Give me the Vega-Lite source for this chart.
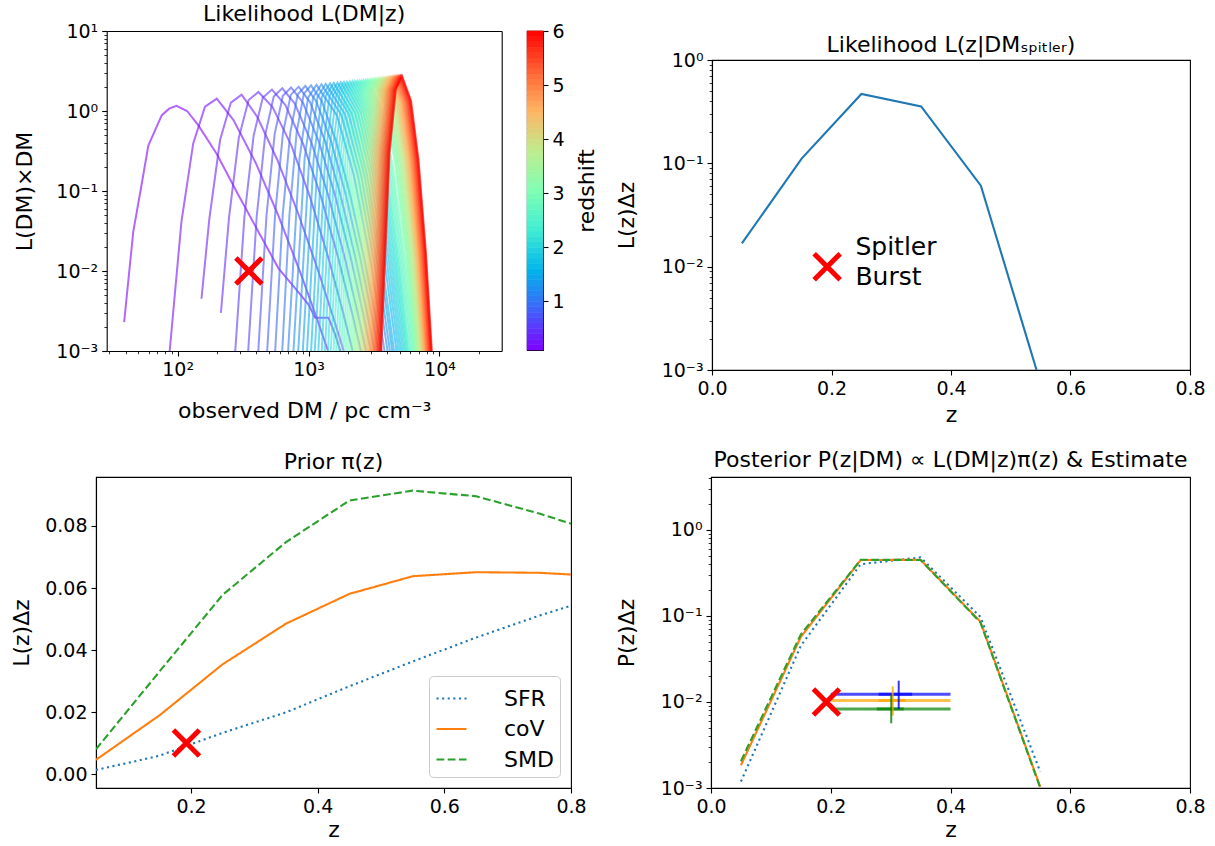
{
"$schema": "https://vega.github.io/schema/vega-lite/v6.json",
"padding": {"left": 10, "top": 3, "right": 5, "bottom": 0},
"background": "white",
"config": {
 "font": "DejaVu Sans",
 "view": {"stroke": "#000000", "strokeWidth": 1.1},
 "axis": {"labelFont": "DejaVu Sans", "titleFont": "DejaVu Sans", "labelFontSize": 19, "labelColor": "#000", "titleFontSize": 22, "titleFontWeight": "normal", "titleColor": "#000", "tickColor": "#000", "tickSize": 5, "tickWidth": 1.1, "domainColor": "#000", "domainWidth": 1.1, "labelPadding": 4, "grid": false, "labelFlush": false, "labelOverlap": false},
 "title": {"font": "DejaVu Sans", "fontSize": 22, "fontWeight": "normal", "color": "#000", "offset": 6, "frame": "group"}
},
"datasets": {
 "curves": [
{"z":0.1,"dm":39,"L":0.0023},{"z":0.1,"dm":45.8,"L":0.031},{"z":0.1,"dm":52,"L":0.1},{"z":0.1,"dm":59.7,"L":0.37},{"z":0.1,"dm":75.5,"L":0.88},{"z":0.1,"dm":86,"L":1.07},{"z":0.1,"dm":98,"L":1.16},{"z":0.1,"dm":118,"L":1.0},{"z":0.1,"dm":144,"L":0.66},{"z":0.1,"dm":199,"L":0.29},{"z":0.1,"dm":291,"L":0.089},{"z":0.1,"dm":414,"L":0.031},{"z":0.1,"dm":589,"L":0.0108},{"z":0.1,"dm":789,"L":0.0061},{"z":0.1,"dm":1000,"L":0.0038},{"z":0.1,"dm":1122,"L":0.0026},{"z":0.1,"dm":1420,"L":0.0026},{"z":0.1,"dm":1600,"L":0.0016},{"z":0.1,"dm":1750,"L":0.001},
{"z":0.2,"dm":86.9,"L":0.001},{"z":0.2,"dm":106.9,"L":0.0415},{"z":0.2,"dm":131.5,"L":0.394},{"z":0.2,"dm":161.8,"L":1.135},{"z":0.2,"dm":199,"L":1.43},{"z":0.2,"dm":267,"L":0.769},{"z":0.2,"dm":395,"L":0.224},{"z":0.2,"dm":584,"L":0.0505},{"z":0.2,"dm":864,"L":0.00964},{"z":0.2,"dm":1159,"L":0.00254},{"z":0.2,"dm":1409,"L":0.001},
{"z":0.3,"dm":152,"L":0.0045},{"z":0.3,"dm":174.4,"L":0.0441},{"z":0.3,"dm":210.9,"L":0.434},{"z":0.3,"dm":255,"L":1.274},{"z":0.3,"dm":308,"L":1.6},{"z":0.3,"dm":403.6,"L":0.857},{"z":0.3,"dm":578,"L":0.244},{"z":0.3,"dm":828,"L":0.0538},{"z":0.3,"dm":1186,"L":0.01},{"z":0.3,"dm":1552,"L":0.00257},{"z":0.3,"dm":1858,"L":0.001},
{"z":0.4,"dm":214,"L":0.003},{"z":0.4,"dm":246.6,"L":0.0458},{"z":0.4,"dm":293.1,"L":0.462},{"z":0.4,"dm":348.3,"L":1.371},{"z":0.4,"dm":414,"L":1.73},{"z":0.4,"dm":530.9,"L":1.122},{"z":0.4,"dm":739.6,"L":0.37},{"z":0.4,"dm":1030,"L":0.0826},{"z":0.4,"dm":1435,"L":0.01365},{"z":0.4,"dm":1841,"L":0.00297},{"z":0.4,"dm":2173,"L":0.001},
{"z":0.5,"dm":275.4,"L":0.001},{"z":0.5,"dm":323.6,"L":0.0474},{"z":0.5,"dm":380.2,"L":0.489},{"z":0.5,"dm":446.7,"L":1.462},{"z":0.5,"dm":525,"L":1.85},{"z":0.5,"dm":663.7,"L":1.194},{"z":0.5,"dm":907.8,"L":0.39},{"z":0.5,"dm":1242,"L":0.0859},{"z":0.5,"dm":1698,"L":0.01396},{"z":0.5,"dm":2148,"L":0.003},{"z":0.5,"dm":2512,"L":0.001},
{"z":0.6,"dm":345.9,"L":0.001},{"z":0.6,"dm":401.8,"L":0.0483},{"z":0.6,"dm":466.7,"L":0.504},{"z":0.6,"dm":542,"L":1.514},{"z":0.6,"dm":630,"L":1.92},{"z":0.6,"dm":785.2,"L":1.236},{"z":0.6,"dm":1054,"L":0.401},{"z":0.6,"dm":1416,"L":0.0879},{"z":0.6,"dm":1901,"L":0.01416},{"z":0.6,"dm":2371,"L":0.00301},{"z":0.6,"dm":2748,"L":0.001},
{"z":0.7,"dm":413,"L":0.001},{"z":0.7,"dm":477,"L":0.049},{"z":0.7,"dm":550.8,"L":0.514},{"z":0.7,"dm":636.1,"L":1.554},{"z":0.7,"dm":735,"L":1.97},{"z":0.7,"dm":907,"L":1.268},{"z":0.7,"dm":1201,"L":0.41},{"z":0.7,"dm":1591,"L":0.0892},{"z":0.7,"dm":2106,"L":0.01429},{"z":0.7,"dm":2600,"L":0.00303},{"z":0.7,"dm":2992,"L":0.001},
{"z":0.8,"dm":483.1,"L":0.001},{"z":0.8,"dm":554.6,"L":0.0495},{"z":0.8,"dm":636.8,"L":0.524},{"z":0.8,"dm":731.1,"L":1.589},{"z":0.8,"dm":840,"L":2.014},{"z":0.8,"dm":1026,"L":1.294},{"z":0.8,"dm":1340,"L":0.417},{"z":0.8,"dm":1750,"L":0.0904},{"z":0.8,"dm":2286,"L":0.01439},{"z":0.8,"dm":2793,"L":0.00303},{"z":0.8,"dm":3192,"L":0.001},
{"z":0.9,"dm":555.9,"L":0.001},{"z":0.9,"dm":634.7,"L":0.0501},{"z":0.9,"dm":724.4,"L":0.533},{"z":0.9,"dm":827,"L":1.62},{"z":0.9,"dm":945,"L":2.056},{"z":0.9,"dm":1146,"L":1.32},{"z":0.9,"dm":1483,"L":0.424},{"z":0.9,"dm":1919,"L":0.0914},{"z":0.9,"dm":2483,"L":0.01449},{"z":0.9,"dm":3013,"L":0.00305},{"z":0.9,"dm":3428,"L":0.001},
{"z":1.0,"dm":629.5,"L":0.001},{"z":1.0,"dm":714.5,"L":0.0505},{"z":1.0,"dm":810.9,"L":0.54},{"z":1.0,"dm":920.4,"L":1.644},{"z":1.0,"dm":1045,"L":2.089},{"z":1.0,"dm":1259,"L":1.34},{"z":1.0,"dm":1614,"L":0.43},{"z":1.0,"dm":2070,"L":0.0923},{"z":1.0,"dm":2655,"L":0.01459},{"z":1.0,"dm":3199,"L":0.00305},{"z":1.0,"dm":3622,"L":0.001},
{"z":1.1,"dm":698,"L":0.001},{"z":1.1,"dm":852,"L":0.2505},{"z":1.1,"dm":990,"L":1.455},{"z":1.1,"dm":1150,"L":2.124},{"z":1.1,"dm":1647,"L":0.883},{"z":1.1,"dm":2222,"L":0.156},{"z":1.1,"dm":2997,"L":0.0126},{"z":1.1,"dm":3808,"L":0.001},
{"z":1.2,"dm":767,"L":0.001},{"z":1.2,"dm":933,"L":0.2534},{"z":1.2,"dm":1083,"L":1.478},{"z":1.2,"dm":1255,"L":2.156},{"z":1.2,"dm":1780,"L":0.896},{"z":1.2,"dm":2379,"L":0.158},{"z":1.2,"dm":3181,"L":0.0127},{"z":1.2,"dm":4015,"L":0.001},
{"z":1.3,"dm":834,"L":0.001},{"z":1.3,"dm":1012,"L":0.256},{"z":1.3,"dm":1171,"L":1.497},{"z":1.3,"dm":1355,"L":2.184},{"z":1.3,"dm":1901,"L":0.906},{"z":1.3,"dm":2520,"L":0.159},{"z":1.3,"dm":3341,"L":0.0127},{"z":1.3,"dm":4187,"L":0.001},
{"z":1.4,"dm":904,"L":0.001},{"z":1.4,"dm":1095,"L":0.258},{"z":1.4,"dm":1265,"L":1.515},{"z":1.4,"dm":1460,"L":2.211},{"z":1.4,"dm":2027,"L":0.917},{"z":1.4,"dm":2665,"L":0.16},{"z":1.4,"dm":3503,"L":0.0128},{"z":1.4,"dm":4358,"L":0.001},
{"z":1.5,"dm":973,"L":0.001},{"z":1.5,"dm":1175,"L":0.26},{"z":1.5,"dm":1354,"L":1.532},{"z":1.5,"dm":1560,"L":2.236},{"z":1.5,"dm":2143,"L":0.926},{"z":1.5,"dm":2794,"L":0.161},{"z":1.5,"dm":3639,"L":0.0128},{"z":1.5,"dm":4499,"L":0.001},
{"z":1.6,"dm":1046,"L":0.001},{"z":1.6,"dm":1260,"L":0.262},{"z":1.6,"dm":1448,"L":1.548},{"z":1.6,"dm":1665,"L":2.26},{"z":1.6,"dm":2273,"L":0.935},{"z":1.6,"dm":2944,"L":0.162},{"z":1.6,"dm":3814,"L":0.0129},{"z":1.6,"dm":4692,"L":0.001},
{"z":1.7,"dm":1116,"L":0.001},{"z":1.7,"dm":1341,"L":0.264},{"z":1.7,"dm":1538,"L":1.563},{"z":1.7,"dm":1765,"L":2.283},{"z":1.7,"dm":2392,"L":0.944},{"z":1.7,"dm":3082,"L":0.1636},{"z":1.7,"dm":3970,"L":0.0129},{"z":1.7,"dm":4861,"L":0.001},
{"z":1.8,"dm":1188,"L":0.001},{"z":1.8,"dm":1423,"L":0.266},{"z":1.8,"dm":1629,"L":1.577},{"z":1.8,"dm":1865,"L":2.304},{"z":1.8,"dm":2510,"L":0.952},{"z":1.8,"dm":3215,"L":0.1646},{"z":1.8,"dm":4118,"L":0.013},{"z":1.8,"dm":5021,"L":0.001},
{"z":1.9,"dm":1260,"L":0.001},{"z":1.9,"dm":1505,"L":0.267},{"z":1.9,"dm":1720,"L":1.59},{"z":1.9,"dm":1965,"L":2.324},{"z":1.9,"dm":2627,"L":0.959},{"z":1.9,"dm":3344,"L":0.1656},{"z":1.9,"dm":4260,"L":0.013},{"z":1.9,"dm":5168,"L":0.001},
{"z":2.0,"dm":1333,"L":0.001},{"z":2.0,"dm":1588,"L":0.269},{"z":2.0,"dm":1811,"L":1.602},{"z":2.0,"dm":2065,"L":2.344},{"z":2.0,"dm":2740,"L":0.966},{"z":2.0,"dm":3471,"L":0.1665},{"z":2.0,"dm":4394,"L":0.013},{"z":2.0,"dm":5307,"L":0.001},
{"z":2.1,"dm":1407,"L":0.001},{"z":2.1,"dm":1672,"L":0.27},{"z":2.1,"dm":1903,"L":1.613},{"z":2.1,"dm":2165,"L":2.363},{"z":2.1,"dm":2853,"L":0.972},{"z":2.1,"dm":3594,"L":0.1673},{"z":2.1,"dm":4523,"L":0.0131},{"z":2.1,"dm":5438,"L":0.001},
{"z":2.2,"dm":1479,"L":0.001},{"z":2.2,"dm":1753,"L":0.271},{"z":2.2,"dm":1990,"L":1.624},{"z":2.2,"dm":2260,"L":2.38},{"z":2.2,"dm":2958,"L":0.978},{"z":2.2,"dm":3704,"L":0.168},{"z":2.2,"dm":4635,"L":0.0131},{"z":2.2,"dm":5548,"L":0.001},
{"z":2.3,"dm":1552,"L":0.001},{"z":2.3,"dm":1834,"L":0.272},{"z":2.3,"dm":2078,"L":1.634},{"z":2.3,"dm":2355,"L":2.396},{"z":2.3,"dm":3062,"L":0.984},{"z":2.3,"dm":3810,"L":0.1688},{"z":2.3,"dm":4743,"L":0.0131},{"z":2.3,"dm":5650,"L":0.001},
{"z":2.4,"dm":1626,"L":0.001},{"z":2.4,"dm":1916,"L":0.274},{"z":2.4,"dm":2167,"L":1.643},{"z":2.4,"dm":2450,"L":2.412},{"z":2.4,"dm":3163,"L":0.99},{"z":2.4,"dm":3915,"L":0.1695},{"z":2.4,"dm":4844,"L":0.0132},{"z":2.4,"dm":5743,"L":0.001},
{"z":2.5,"dm":1701,"L":0.001},{"z":2.5,"dm":1998,"L":0.275},{"z":2.5,"dm":2255,"L":1.652},{"z":2.5,"dm":2545,"L":2.427},{"z":2.5,"dm":3263,"L":0.995},{"z":2.5,"dm":4016,"L":0.1703},{"z":2.5,"dm":4940,"L":0.0132},{"z":2.5,"dm":5831,"L":0.001},
{"z":2.6,"dm":1777,"L":0.001},{"z":2.6,"dm":2082,"L":0.276},{"z":2.6,"dm":2344,"L":1.661},{"z":2.6,"dm":2640,"L":2.442},{"z":2.6,"dm":3374,"L":1.0},{"z":2.6,"dm":4140,"L":0.171},{"z":2.6,"dm":5077,"L":0.0132},{"z":2.6,"dm":5980,"L":0.001},
{"z":2.7,"dm":1850,"L":0.001},{"z":2.7,"dm":2162,"L":0.277},{"z":2.7,"dm":2429,"L":1.669},{"z":2.7,"dm":2730,"L":2.456},{"z":2.7,"dm":3478,"L":1.005},{"z":2.7,"dm":4253,"L":0.1715},{"z":2.7,"dm":5201,"L":0.0133},{"z":2.7,"dm":6112,"L":0.001},
{"z":2.8,"dm":1924,"L":0.001},{"z":2.8,"dm":2242,"L":0.279},{"z":2.8,"dm":2515,"L":1.677},{"z":2.8,"dm":2820,"L":2.47},{"z":2.8,"dm":3579,"L":1.01},{"z":2.8,"dm":4365,"L":0.172},{"z":2.8,"dm":5324,"L":0.0133},{"z":2.8,"dm":6241,"L":0.001},
{"z":2.9,"dm":1999,"L":0.001},{"z":2.9,"dm":2323,"L":0.28},{"z":2.9,"dm":2600,"L":1.689},{"z":2.9,"dm":2910,"L":2.483},{"z":2.9,"dm":3681,"L":1.015},{"z":2.9,"dm":4476,"L":0.1727},{"z":2.9,"dm":5445,"L":0.0133},{"z":2.9,"dm":6367,"L":0.001},
{"z":3.0,"dm":2075,"L":0.001},{"z":3.0,"dm":2405,"L":0.281},{"z":3.0,"dm":2686,"L":1.697},{"z":3.0,"dm":3000,"L":2.495},{"z":3.0,"dm":3768,"L":1.234},{"z":3.0,"dm":4557,"L":0.234},{"z":3.0,"dm":5511,"L":0.0167},{"z":3.0,"dm":6414,"L":0.001},
{"z":3.1,"dm":2138,"L":0.001},{"z":3.1,"dm":2477,"L":0.282},{"z":3.1,"dm":2767,"L":1.705},{"z":3.1,"dm":3090,"L":2.509},{"z":3.1,"dm":3866,"L":1.241},{"z":3.1,"dm":4657,"L":0.235},{"z":3.1,"dm":5611,"L":0.0167},{"z":3.1,"dm":6517,"L":0.001},
{"z":3.2,"dm":2196,"L":0.001},{"z":3.2,"dm":2545,"L":0.2834},{"z":3.2,"dm":2843,"L":1.713},{"z":3.2,"dm":3175,"L":2.52},{"z":3.2,"dm":3956,"L":1.246},{"z":3.2,"dm":4750,"L":0.2358},{"z":3.2,"dm":5702,"L":0.0168},{"z":3.2,"dm":6604,"L":0.001},
{"z":3.3,"dm":2255,"L":0.001},{"z":3.3,"dm":2614,"L":0.284},{"z":3.3,"dm":2919,"L":1.72},{"z":3.3,"dm":3260,"L":2.531},{"z":3.3,"dm":4046,"L":1.251},{"z":3.3,"dm":4838,"L":0.2365},{"z":3.3,"dm":5793,"L":0.0168},{"z":3.3,"dm":6686,"L":0.001},
{"z":3.4,"dm":2314,"L":0.001},{"z":3.4,"dm":2682,"L":0.2852},{"z":3.4,"dm":2995,"L":1.728},{"z":3.4,"dm":3345,"L":2.542},{"z":3.4,"dm":4131,"L":1.256},{"z":3.4,"dm":4927,"L":0.2372},{"z":3.4,"dm":5877,"L":0.0168},{"z":3.4,"dm":6767,"L":0.001},
{"z":3.5,"dm":2373,"L":0.001},{"z":3.5,"dm":2750,"L":0.2861},{"z":3.5,"dm":3071,"L":1.735},{"z":3.5,"dm":3430,"L":2.552},{"z":3.5,"dm":4219,"L":1.261},{"z":3.5,"dm":5015,"L":0.2379},{"z":3.5,"dm":5961,"L":0.0168},{"z":3.5,"dm":6843,"L":0.001},
{"z":3.6,"dm":2428,"L":0.001},{"z":3.6,"dm":2814,"L":0.287},{"z":3.6,"dm":3143,"L":1.741},{"z":3.6,"dm":3510,"L":2.562},{"z":3.6,"dm":4307,"L":1.265},{"z":3.6,"dm":5107,"L":0.2386},{"z":3.6,"dm":6055,"L":0.01687},{"z":3.6,"dm":6939,"L":0.001},
{"z":3.7,"dm":2484,"L":0.001},{"z":3.7,"dm":2878,"L":0.2878},{"z":3.7,"dm":3215,"L":1.748},{"z":3.7,"dm":3590,"L":2.572},{"z":3.7,"dm":4394,"L":1.27},{"z":3.7,"dm":5195,"L":0.2393},{"z":3.7,"dm":6150,"L":0.01689},{"z":3.7,"dm":7033,"L":0.001},
{"z":3.8,"dm":2539,"L":0.001},{"z":3.8,"dm":2942,"L":0.2885},{"z":3.8,"dm":3286,"L":1.754},{"z":3.8,"dm":3670,"L":2.582},{"z":3.8,"dm":4477,"L":1.274},{"z":3.8,"dm":5285,"L":0.2399},{"z":3.8,"dm":6239,"L":0.01691},{"z":3.8,"dm":7123,"L":0.001},
{"z":3.9,"dm":2594,"L":0.001},{"z":3.9,"dm":3006,"L":0.2893},{"z":3.9,"dm":3358,"L":1.76},{"z":3.9,"dm":3750,"L":2.591},{"z":3.9,"dm":4564,"L":1.279},{"z":3.9,"dm":5374,"L":0.2405},{"z":3.9,"dm":6330,"L":0.01694},{"z":3.9,"dm":7211,"L":0.001},
{"z":4.0,"dm":2650,"L":0.001},{"z":4.0,"dm":3070,"L":0.29},{"z":4.0,"dm":3429,"L":1.766},{"z":4.0,"dm":3830,"L":2.6},{"z":4.0,"dm":4646,"L":1.283},{"z":4.0,"dm":5462,"L":0.2411},{"z":4.0,"dm":6415,"L":0.01696},{"z":4.0,"dm":7296,"L":0.001},
{"z":4.1,"dm":2701,"L":0.001},{"z":4.1,"dm":3131,"L":0.2907},{"z":4.1,"dm":3497,"L":1.772},{"z":4.1,"dm":3905,"L":2.609},{"z":4.1,"dm":4725,"L":1.286},{"z":4.1,"dm":5541,"L":0.2416},{"z":4.1,"dm":6494,"L":0.01698},{"z":4.1,"dm":7373,"L":0.001},
{"z":4.2,"dm":2753,"L":0.001},{"z":4.2,"dm":3191,"L":0.2914},{"z":4.2,"dm":3564,"L":1.777},{"z":4.2,"dm":3980,"L":2.617},{"z":4.2,"dm":4804,"L":1.29},{"z":4.2,"dm":5616,"L":0.2422},{"z":4.2,"dm":6571,"L":0.017},{"z":4.2,"dm":7447,"L":0.001},
{"z":4.3,"dm":2805,"L":0.001},{"z":4.3,"dm":3251,"L":0.2921},{"z":4.3,"dm":3631,"L":1.783},{"z":4.3,"dm":4055,"L":2.626},{"z":4.3,"dm":4878,"L":1.294},{"z":4.3,"dm":5693,"L":0.2427},{"z":4.3,"dm":6642,"L":0.01702},{"z":4.3,"dm":7518,"L":0.001},
{"z":4.4,"dm":2857,"L":0.001},{"z":4.4,"dm":3311,"L":0.2927},{"z":4.4,"dm":3698,"L":1.788},{"z":4.4,"dm":4130,"L":2.634},{"z":4.4,"dm":4956,"L":1.298},{"z":4.4,"dm":5770,"L":0.2432},{"z":4.4,"dm":6715,"L":0.01704},{"z":4.4,"dm":7587,"L":0.001},
{"z":4.5,"dm":2906,"L":0.001},{"z":4.5,"dm":3367,"L":0.2933},{"z":4.5,"dm":3761,"L":1.792},{"z":4.5,"dm":4200,"L":2.641},{"z":4.5,"dm":5027,"L":1.301},{"z":4.5,"dm":5838,"L":0.2437},{"z":4.5,"dm":6779,"L":0.01705},{"z":4.5,"dm":7644,"L":0.001},
{"z":4.6,"dm":2954,"L":0.001},{"z":4.6,"dm":3423,"L":0.2939},{"z":4.6,"dm":3823,"L":1.797},{"z":4.6,"dm":4270,"L":2.648},{"z":4.6,"dm":5098,"L":1.304},{"z":4.6,"dm":5914,"L":0.2441},{"z":4.6,"dm":6853,"L":0.01707},{"z":4.6,"dm":7716,"L":0.001},
{"z":4.7,"dm":3002,"L":0.001},{"z":4.7,"dm":3479,"L":0.2945},{"z":4.7,"dm":3886,"L":1.802},{"z":4.7,"dm":4340,"L":2.656},{"z":4.7,"dm":5173,"L":1.307},{"z":4.7,"dm":5989,"L":0.2446},{"z":4.7,"dm":6931,"L":0.01709},{"z":4.7,"dm":7790,"L":0.001},
{"z":4.8,"dm":3051,"L":0.001},{"z":4.8,"dm":3536,"L":0.295},{"z":4.8,"dm":3949,"L":1.806},{"z":4.8,"dm":4410,"L":2.663},{"z":4.8,"dm":5243,"L":1.31},{"z":4.8,"dm":6059,"L":0.245},{"z":4.8,"dm":7003,"L":0.0171},{"z":4.8,"dm":7859,"L":0.001},
{"z":4.9,"dm":3099,"L":0.001},{"z":4.9,"dm":3592,"L":0.2956},{"z":4.9,"dm":4011,"L":1.811},{"z":4.9,"dm":4480,"L":2.67},{"z":4.9,"dm":5318,"L":1.313},{"z":4.9,"dm":6133,"L":0.2455},{"z":4.9,"dm":7074,"L":0.01712},{"z":4.9,"dm":7930,"L":0.001},
{"z":5.0,"dm":3148,"L":0.001},{"z":5.0,"dm":3648,"L":0.2961},{"z":5.0,"dm":4074,"L":1.815},{"z":5.0,"dm":4550,"L":2.677},{"z":5.0,"dm":5387,"L":1.317},{"z":5.0,"dm":6206,"L":0.2459},{"z":5.0,"dm":7144,"L":0.01714},{"z":5.0,"dm":7999,"L":0.001},
{"z":5.1,"dm":3196,"L":0.001},{"z":5.1,"dm":3704,"L":0.2967},{"z":5.1,"dm":4137,"L":1.82},{"z":5.1,"dm":4620,"L":2.684},{"z":5.1,"dm":5465,"L":1.32},{"z":5.1,"dm":6283,"L":0.2464},{"z":5.1,"dm":7230,"L":0.01715},{"z":5.1,"dm":8085,"L":0.001},
{"z":5.2,"dm":3241,"L":0.001},{"z":5.2,"dm":3756,"L":0.2972},{"z":5.2,"dm":4195,"L":1.824},{"z":5.2,"dm":4685,"L":2.69},{"z":5.2,"dm":5533,"L":1.322},{"z":5.2,"dm":6358,"L":0.2468},{"z":5.2,"dm":7304,"L":0.01717},{"z":5.2,"dm":8161,"L":0.001},
{"z":5.3,"dm":3286,"L":0.001},{"z":5.3,"dm":3808,"L":0.2976},{"z":5.3,"dm":4253,"L":1.827},{"z":5.3,"dm":4750,"L":2.696},{"z":5.3,"dm":5605,"L":1.325},{"z":5.3,"dm":6432,"L":0.2471},{"z":5.3,"dm":7377,"L":0.01718},{"z":5.3,"dm":8237,"L":0.001},
{"z":5.4,"dm":3331,"L":0.001},{"z":5.4,"dm":3860,"L":0.2981},{"z":5.4,"dm":4311,"L":1.831},{"z":5.4,"dm":4815,"L":2.702},{"z":5.4,"dm":5672,"L":1.328},{"z":5.4,"dm":6500,"L":0.2475},{"z":5.4,"dm":7454,"L":0.01719},{"z":5.4,"dm":8311,"L":0.001},
{"z":5.5,"dm":3376,"L":0.001},{"z":5.5,"dm":3912,"L":0.2986},{"z":5.5,"dm":4370,"L":1.835},{"z":5.5,"dm":4880,"L":2.708},{"z":5.5,"dm":5739,"L":1.33},{"z":5.5,"dm":6573,"L":0.2479},{"z":5.5,"dm":7525,"L":0.0172},{"z":5.5,"dm":8384,"L":0.001},
{"z":5.6,"dm":3421,"L":0.001},{"z":5.6,"dm":3964,"L":0.299},{"z":5.6,"dm":4428,"L":1.839},{"z":5.6,"dm":4945,"L":2.714},{"z":5.6,"dm":5810,"L":1.332},{"z":5.6,"dm":6641,"L":0.2483},{"z":5.6,"dm":7596,"L":0.01722},{"z":5.6,"dm":8456,"L":0.001},
{"z":5.7,"dm":3466,"L":0.001},{"z":5.7,"dm":4017,"L":0.2995},{"z":5.7,"dm":4486,"L":1.843},{"z":5.7,"dm":5010,"L":2.72},{"z":5.7,"dm":5882,"L":1.335},{"z":5.7,"dm":6723,"L":0.2486},{"z":5.7,"dm":7680,"L":0.01723},{"z":5.7,"dm":8547,"L":0.001},
{"z":5.8,"dm":3507,"L":0.001},{"z":5.8,"dm":4065,"L":0.2999},{"z":5.8,"dm":4540,"L":1.846},{"z":5.8,"dm":5070,"L":2.725},{"z":5.8,"dm":5942,"L":1.338},{"z":5.8,"dm":6784,"L":0.249},{"z":5.8,"dm":7747,"L":0.01725},{"z":5.8,"dm":8609,"L":0.001},
{"z":5.9,"dm":3549,"L":0.001},{"z":5.9,"dm":4113,"L":0.3003},{"z":5.9,"dm":4593,"L":1.849},{"z":5.9,"dm":5130,"L":2.731},{"z":5.9,"dm":6007,"L":1.34},{"z":5.9,"dm":6849,"L":0.2493},{"z":5.9,"dm":7808,"L":0.01726},{"z":5.9,"dm":8670,"L":0.001},
{"z":6.0,"dm":3591,"L":0.001},{"z":6.0,"dm":4161,"L":0.3007},{"z":6.0,"dm":4647,"L":1.852},{"z":6.0,"dm":5190,"L":2.736},{"z":6.0,"dm":6072,"L":1.342},{"z":6.0,"dm":6918,"L":0.2496},{"z":6.0,"dm":7884,"L":0.01727},{"z":6.0,"dm":8756,"L":0.001}
 ],
 "cbar": [
{"lo":0.1,"hi":0.2,"c":0.15},{"lo":0.2,"hi":0.3,"c":0.25},{"lo":0.3,"hi":0.4,"c":0.35},{"lo":0.4,"hi":0.5,"c":0.45},{"lo":0.5,"hi":0.6,"c":0.55},{"lo":0.6,"hi":0.7,"c":0.65},{"lo":0.7,"hi":0.8,"c":0.75},{"lo":0.8,"hi":0.9,"c":0.85},{"lo":0.9,"hi":1.0,"c":0.95},{"lo":1.0,"hi":1.1,"c":1.05},
{"lo":1.1,"hi":1.2,"c":1.15},{"lo":1.2,"hi":1.3,"c":1.25},{"lo":1.3,"hi":1.4,"c":1.35},{"lo":1.4,"hi":1.5,"c":1.45},{"lo":1.5,"hi":1.6,"c":1.55},{"lo":1.6,"hi":1.7,"c":1.65},{"lo":1.7,"hi":1.8,"c":1.75},{"lo":1.8,"hi":1.9,"c":1.85},{"lo":1.9,"hi":2.0,"c":1.95},{"lo":2.0,"hi":2.1,"c":2.05},
{"lo":2.1,"hi":2.2,"c":2.15},{"lo":2.2,"hi":2.3,"c":2.25},{"lo":2.3,"hi":2.4,"c":2.35},{"lo":2.4,"hi":2.5,"c":2.45},{"lo":2.5,"hi":2.6,"c":2.55},{"lo":2.6,"hi":2.7,"c":2.65},{"lo":2.7,"hi":2.8,"c":2.75},{"lo":2.8,"hi":2.9,"c":2.85},{"lo":2.9,"hi":3.0,"c":2.95},{"lo":3.0,"hi":3.1,"c":3.05},
{"lo":3.1,"hi":3.2,"c":3.15},{"lo":3.2,"hi":3.3,"c":3.25},{"lo":3.3,"hi":3.4,"c":3.35},{"lo":3.4,"hi":3.5,"c":3.45},{"lo":3.5,"hi":3.6,"c":3.55},{"lo":3.6,"hi":3.7,"c":3.65},{"lo":3.7,"hi":3.8,"c":3.75},{"lo":3.8,"hi":3.9,"c":3.85},{"lo":3.9,"hi":4.0,"c":3.95},{"lo":4.0,"hi":4.1,"c":4.05},
{"lo":4.1,"hi":4.2,"c":4.15},{"lo":4.2,"hi":4.3,"c":4.25},{"lo":4.3,"hi":4.4,"c":4.35},{"lo":4.4,"hi":4.5,"c":4.45},{"lo":4.5,"hi":4.6,"c":4.55},{"lo":4.6,"hi":4.7,"c":4.65},{"lo":4.7,"hi":4.8,"c":4.75},{"lo":4.8,"hi":4.9,"c":4.85},{"lo":4.9,"hi":5.0,"c":4.95},{"lo":5.0,"hi":5.1,"c":5.05},
{"lo":5.1,"hi":5.2,"c":5.15},{"lo":5.2,"hi":5.3,"c":5.25},{"lo":5.3,"hi":5.4,"c":5.35},{"lo":5.4,"hi":5.5,"c":5.45},{"lo":5.5,"hi":5.6,"c":5.55},{"lo":5.6,"hi":5.7,"c":5.65},{"lo":5.7,"hi":5.8,"c":5.75},{"lo":5.8,"hi":5.9,"c":5.85},{"lo":5.9,"hi":6.0,"c":5.95}
 ],
 "lik": [
{"z":0.05,"L":0.0168},{"z":0.15,"L":0.111},{"z":0.25,"L":0.469},{"z":0.35,"L":0.355},{"z":0.45,"L":0.0607},{"z":0.55,"L":0.00074}
 ],
 "prior": [
{"prior":"SFR","z":0.05,"p":0.0013},{"prior":"SFR","z":0.15,"p":0.0059},{"prior":"SFR","z":0.25,"p":0.0133},{"prior":"SFR","z":0.35,"p":0.0199},{"prior":"SFR","z":0.45,"p":0.0283},{"prior":"SFR","z":0.55,"p":0.0363},{"prior":"SFR","z":0.65,"p":0.044},{"prior":"SFR","z":0.75,"p":0.0511},{"prior":"SFR","z":0.85,"p":0.0575},
{"prior":"coV","z":0.05,"p":0.0046},{"prior":"coV","z":0.15,"p":0.0189},{"prior":"coV","z":0.25,"p":0.0354},{"prior":"coV","z":0.35,"p":0.0485},{"prior":"coV","z":0.45,"p":0.0581},{"prior":"coV","z":0.55,"p":0.0638},{"prior":"coV","z":0.65,"p":0.0651},{"prior":"coV","z":0.75,"p":0.0649},{"prior":"coV","z":0.85,"p":0.0638},
{"prior":"SMD","z":0.05,"p":0.008},{"prior":"SMD","z":0.15,"p":0.033},{"prior":"SMD","z":0.25,"p":0.0578},{"prior":"SMD","z":0.35,"p":0.0748},{"prior":"SMD","z":0.45,"p":0.0882},{"prior":"SMD","z":0.55,"p":0.0914},{"prior":"SMD","z":0.65,"p":0.0896},{"prior":"SMD","z":0.75,"p":0.084},{"prior":"SMD","z":0.85,"p":0.0775}
 ],
 "post": [
{"pr":"SFR","z":0.05,"p":0.00119},{"pr":"SFR","z":0.15,"p":0.045},{"pr":"SFR","z":0.25,"p":0.4},{"pr":"SFR","z":0.35,"p":0.48},{"pr":"SFR","z":0.45,"p":0.0975},{"pr":"SFR","z":0.55,"p":0.00154},
{"pr":"coV","z":0.05,"p":0.00184},{"pr":"coV","z":0.15,"p":0.057},{"pr":"coV","z":0.25,"p":0.447},{"pr":"coV","z":0.35,"p":0.45},{"pr":"coV","z":0.45,"p":0.0857},{"pr":"coV","z":0.55,"p":0.00103},
{"pr":"SMD","z":0.05,"p":0.00205},{"pr":"SMD","z":0.15,"p":0.061},{"pr":"SMD","z":0.25,"p":0.45},{"pr":"SMD","z":0.35,"p":0.448},{"pr":"SMD","z":0.45,"p":0.084},{"pr":"SMD","z":0.55,"p":0.001}
 ],
 "est": [
{"e":"SFR","k":"h","x1":0.2,"x2":0.4,"y1":0.01233,"y2":0.01233},
{"e":"SFR","k":"h","x1":0.28,"x2":0.336,"y1":0.01233,"y2":0.01233},
{"e":"SFR","k":"v","x1":0.3135,"x2":0.3135,"y1":0.0083,"y2":0.0177},
{"e":"coV","k":"h","x1":0.2,"x2":0.4,"y1":0.01042,"y2":0.01042},
{"e":"coV","k":"h","x1":0.28,"x2":0.325,"y1":0.01042,"y2":0.01042},
{"e":"coV","k":"v","x1":0.3035,"x2":0.3035,"y1":0.00695,"y2":0.0152},
{"e":"SMD","k":"h","x1":0.2,"x2":0.4,"y1":0.0083,"y2":0.0083},
{"e":"SMD","k":"h","x1":0.277,"x2":0.322,"y1":0.0083,"y2":0.0083},
{"e":"SMD","k":"v","x1":0.301,"x2":0.301,"y1":0.00565,"y2":0.0121}
 ]
},
"spacing": 22,
"resolve": {"scale": {"color": "independent", "stroke": "independent", "strokeDash": "independent"}},
"vconcat": [
 {
  "spacing": 16,
  "resolve": {"scale": {"color": "independent", "stroke": "independent", "strokeDash": "independent"}},
  "hconcat": [
   {
    "spacing": 24,
    "resolve": {"scale": {"color": "independent", "stroke": "independent", "strokeDash": "independent"}},
    "hconcat": [
     {
      "width": 405.7, "height": 320,
      "view": {"stroke": null},
      "title": {"text": "Likelihood L(DM|z)", "offset": -4, "dx": 5.3},
      "resolve": {"axis": {"x": "independent", "y": "independent"}},
      "layer": [
       {
        "data": {"name": "curves"},
        "mark": {"type": "line", "strokeWidth": 2, "opacity": 0.6, "clip": true},
        "encoding": {
         "x": {"field": "dm", "type": "quantitative", "scale": {"type": "log", "domain": [28.7, 29900], "nice": false, "range": [10.7, 405.7]},
               "axis": {"orient": "bottom", "values": [100, 1000, 10000], "labelExpr": "datum.value < 500 ? '10²' : datum.value < 5000 ? '10³' : '10⁴'", "title": "observed DM / pc cm⁻³", "titlePadding": 21}},
         "y": {"field": "L", "type": "quantitative", "scale": {"type": "log", "domain": [0.001, 10], "nice": false},
               "axis": {"orient": "left", "offset": -10.7, "values": [0.001, 0.01, 0.1, 1, 10], "labelExpr": "datum.value < 0.005 ? '10⁻³' : datum.value < 0.05 ? '10⁻²' : datum.value < 0.5 ? '10⁻¹' : datum.value < 5 ? '10⁰' : '10¹'", "title": "L(DM)×DM", "titlePadding": 19}},
         "color": {"field": "z", "type": "quantitative", "legend": null,
                   "scale": {"domain": [0.1, 0.8375, 1.575, 2.3125, 3.05, 3.7875, 4.525, 5.2625, 6.0], "range": ["#8000ff", "#4062fa", "#00b4ec", "#40ecd4", "#80ffb4", "#bfec8e", "#ffb462", "#ff6232", "#ff0000"], "interpolate": "rgb"}},
         "detail": {"field": "z", "type": "quantitative"}
        }
       },
       {
        "data": {"values": [{"dm": 350, "L": 0.01}]},
        "mark": {"type": "point", "shape": "M-1,-1L1,1M-1,1L1,-1", "size": 676, "strokeWidth": 5, "filled": false, "color": "#ff0000", "opacity": 1},
        "encoding": {
         "x": {"field": "dm", "type": "quantitative", "axis": {"orient": "bottom", "values": [30,40,50,60,70,80,90,200,300,400,500,600,700,800,900,2000,3000,4000,5000,6000,7000,8000,9000,20000], "labels": false, "tickSize": 2.8, "tickWidth": 0.8, "domain": false, "title": null}},
         "y": {"field": "L", "type": "quantitative", "axis": {"orient": "left", "offset": -10.7, "values": [0.002,0.003,0.004,0.005,0.006,0.007,0.008,0.009,0.02,0.03,0.04,0.05,0.06,0.07,0.08,0.09,0.2,0.3,0.4,0.5,0.6,0.7,0.8,0.9,2,3,4,5,6,7,8,9], "labels": false, "tickSize": 2.8, "tickWidth": 0.8, "domain": false, "title": null}}
        }
       },
       {
        "data": {"values": []},
        "mark": {"type": "point"},
        "encoding": {
         "x": {"field": "dm", "type": "quantitative", "axis": {"orient": "top", "ticks": false, "labels": false, "domain": true, "title": null}},
         "y": {"field": "L", "type": "quantitative", "axis": {"orient": "right", "ticks": false, "labels": false, "domain": true, "title": null}}
        }
       }
      ]
     },
     {
      "width": 16, "height": 319,
      "data": {"name": "cbar"},
      "mark": {"type": "rect", "strokeWidth": 0.6},
      "encoding": {
       "y": {"field": "lo", "type": "quantitative", "scale": {"domain": [0.1, 6], "nice": false, "zero": false},
             "axis": {"orient": "right", "values": [1, 2, 3, 4, 5, 6], "format": "d", "title": "redshift", "titleAngle": 270, "titleBaseline": "top", "titlePadding": 12, "domain": false}},
       "y2": {"field": "hi"},
       "color": {"field": "c", "type": "quantitative", "legend": null,
                 "scale": {"domain": [0.1, 0.8375, 1.575, 2.3125, 3.05, 3.7875, 4.525, 5.2625, 6.0], "range": ["#8000ff", "#4062fa", "#00b4ec", "#40ecd4", "#80ffb4", "#bfec8e", "#ffb462", "#ff6232", "#ff0000"], "interpolate": "rgb"}},
       "stroke": {"field": "c", "type": "quantitative", "legend": null,
                 "scale": {"domain": [0.1, 0.8375, 1.575, 2.3125, 3.05, 3.7875, 4.525, 5.2625, 6.0], "range": ["#8000ff", "#4062fa", "#00b4ec", "#40ecd4", "#80ffb4", "#bfec8e", "#ffb462", "#ff6232", "#ff0000"], "interpolate": "rgb"}}
      }
     }
    ]
   },
   {
    "spacing": 1,
    "vconcat": [
     {"width": 1, "height": 1, "data": {"values": []}, "mark": "point", "view": {"stroke": null}},
     {
      "width": 478, "height": 310,
      "title": {"text": "Likelihood L(z|DMₛₚᵢₜₗₑᵣ)", "offset": -6},
      "resolve": {"axis": {"y": "independent"}},
      "layer": [
       {
        "data": {"name": "lik"},
        "mark": {"type": "line", "color": "#1f77b4", "strokeWidth": 2.1, "clip": true},
        "encoding": {
         "x": {"field": "z", "type": "quantitative", "scale": {"domain": [0, 0.8], "nice": false},
               "axis": {"values": [0, 0.2, 0.4, 0.6, 0.8], "format": ".1f", "title": "z", "titlePadding": 6}},
         "y": {"field": "L", "type": "quantitative", "scale": {"type": "log", "domain": [0.001, 1], "nice": false},
               "axis": {"orient": "left", "values": [0.001, 0.01, 0.1, 1], "labelExpr": "datum.value < 0.005 ? '10⁻³' : datum.value < 0.05 ? '10⁻²' : datum.value < 0.5 ? '10⁻¹' : '10⁰'", "title": "L(z)Δz", "titlePadding": 23}}
        }
       },
       {
        "data": {"values": [{"z": 0.19273, "L": 0.01}]},
        "mark": {"type": "point", "shape": "M-1,-1L1,1M-1,1L1,-1", "size": 676, "strokeWidth": 5, "filled": false, "color": "#ff0000", "opacity": 1},
        "encoding": {
         "x": {"field": "z", "type": "quantitative", "title": "z"},
         "y": {"field": "L", "type": "quantitative", "axis": {"orient": "left", "values": [0.002,0.003,0.004,0.005,0.006,0.007,0.008,0.009,0.02,0.03,0.04,0.05,0.06,0.07,0.08,0.09,0.2,0.3,0.4,0.5,0.6,0.7,0.8,0.9], "labels": false, "tickSize": 2.8, "tickWidth": 0.8, "domain": false, "title": null}}
        }
       },
       {
        "data": {"values": [{"z": 0.24, "L": 0.0156, "label": "Spitler\nBurst"}]},
        "mark": {"type": "text", "align": "left", "baseline": "middle", "fontSize": 25, "lineBreak": "\n", "lineHeight": 30, "font": "DejaVu Sans", "color": "#000"},
        "encoding": {
         "x": {"field": "z", "type": "quantitative", "title": "z"},
         "y": {"field": "L", "type": "quantitative", "axis": null},
         "text": {"field": "label"}
        }
       }
      ]
     }
    ]
   }
  ]
 },
 {
  "spacing": 27,
  "resolve": {"scale": {"color": "independent", "stroke": "independent", "strokeDash": "independent"}},
  "hconcat": [
   {
    "width": 475, "height": 311,
    "title": {"text": "Prior π(z)", "offset": 3},
    "layer": [
     {
      "data": {"name": "prior"},
      "mark": {"type": "line", "strokeWidth": 2.1, "clip": true},
      "encoding": {
       "x": {"field": "z", "type": "quantitative", "scale": {"domain": [0.05, 0.8], "nice": false, "zero": false},
             "axis": {"values": [0.2, 0.4, 0.6, 0.8], "format": ".1f", "title": "z", "titlePadding": 3}},
       "y": {"field": "p", "type": "quantitative", "scale": {"domain": [-0.0045, 0.0958], "nice": false, "zero": false},
             "axis": {"values": [0, 0.02, 0.04, 0.06, 0.08], "format": ".2f", "title": "L(z)Δz", "titlePadding": 11}},
       "color": {"field": "prior", "type": "nominal", "scale": {"domain": ["SFR", "coV", "SMD"], "range": ["#1f77b4", "#ff7f0e", "#2ca02c"]},
                 "legend": {"orient": "bottom-right", "offset": 11, "title": null, "symbolType": "stroke", "symbolSize": 900, "symbolStrokeWidth": 2.2, "labelFontSize": 22, "labelFont": "DejaVu Sans", "labelColor": "#000", "labelOffset": 36, "rowPadding": 2.5, "padding": 6, "strokeColor": "#cccccc", "fillColor": "#ffffff", "cornerRadius": 4}},
       "strokeDash": {"field": "prior", "type": "nominal", "scale": {"domain": ["SFR", "coV", "SMD"], "range": [[2.1, 3.5], [1, 0], [7.8, 3.4]]},
                 "legend": {"orient": "bottom-right", "offset": 11, "title": null, "symbolType": "stroke", "symbolSize": 900, "symbolStrokeWidth": 2.2, "labelFontSize": 22, "labelFont": "DejaVu Sans", "labelColor": "#000", "labelOffset": 36, "rowPadding": 2.5, "padding": 6, "strokeColor": "#cccccc", "fillColor": "#ffffff", "cornerRadius": 4}}
      }
     },
     {
      "data": {"values": [{"z": 0.19273, "p": 0.01}]},
      "mark": {"type": "point", "shape": "M-1,-1L1,1M-1,1L1,-1", "size": 676, "strokeWidth": 5, "filled": false, "color": "#ff0000", "opacity": 1},
      "encoding": {
       "x": {"field": "z", "type": "quantitative", "title": "z"},
       "y": {"field": "p", "type": "quantitative", "title": "L(z)Δz"}
      }
     }
    ]
   },
   {
    "width": 479, "height": 311,
    "title": {"text": "Posterior P(z|DM) ∝ L(DM|z)π(z) & Estimate", "offset": 5},
    "resolve": {"axis": {"y": "independent"}, "scale": {"color": "independent"}},
    "layer": [
     {
      "data": {"name": "post"},
      "mark": {"type": "line", "strokeWidth": 2.1, "clip": true},
      "encoding": {
       "x": {"field": "z", "type": "quantitative", "scale": {"domain": [0, 0.8], "nice": false},
             "axis": {"values": [0, 0.2, 0.4, 0.6, 0.8], "format": ".1f", "title": "z", "titlePadding": 3}},
       "y": {"field": "p", "type": "quantitative", "scale": {"type": "log", "domain": [0.001, 4.13], "nice": false},
             "axis": {"orient": "left", "values": [0.001, 0.01, 0.1, 1], "labelExpr": "datum.value < 0.005 ? '10⁻³' : datum.value < 0.05 ? '10⁻²' : datum.value < 0.5 ? '10⁻¹' : '10⁰'", "title": "P(z)Δz", "titlePadding": 22}},
       "color": {"field": "pr", "type": "nominal", "scale": {"domain": ["SFR", "coV", "SMD"], "range": ["#1f77b4", "#ff7f0e", "#2ca02c"]}, "legend": null},
       "strokeDash": {"field": "pr", "type": "nominal", "scale": {"domain": ["SFR", "coV", "SMD"], "range": [[2.1, 3.5], [1, 0], [7.8, 3.4]]}, "legend": null}
      }
     },
     {
      "data": {"name": "est"},
      "transform": [{"filter": "datum.k == 'h'"}],
      "mark": {"type": "rule", "strokeWidth": 3, "opacity": 0.7},
      "encoding": {
       "x": {"field": "x1", "type": "quantitative", "title": "z"},
       "x2": {"field": "x2"},
       "y": {"field": "y1", "type": "quantitative", "axis": null},
       "y2": {"field": "y2"},
       "color": {"field": "e", "type": "nominal", "scale": {"domain": ["SFR", "coV", "SMD"], "range": ["#0000ff", "#ffa500", "#008000"]}, "legend": null}
      }
     },
     {
      "data": {"name": "est"},
      "transform": [{"filter": "datum.k == 'v'"}],
      "mark": {"type": "rule", "strokeWidth": 2, "opacity": 0.8},
      "encoding": {
       "x": {"field": "x1", "type": "quantitative", "title": "z"},
       "x2": {"field": "x2"},
       "y": {"field": "y1", "type": "quantitative", "axis": null},
       "y2": {"field": "y2"},
       "color": {"field": "e", "type": "nominal", "scale": {"domain": ["SFR", "coV", "SMD"], "range": ["#0000ff", "#ffa500", "#008000"]}, "legend": null}
      }
     },
     {
      "data": {"values": [{"z": 0.19273, "p": 0.01}]},
      "mark": {"type": "point", "shape": "M-1,-1L1,1M-1,1L1,-1", "size": 676, "strokeWidth": 5, "filled": false, "color": "#ff0000", "opacity": 1},
      "encoding": {
       "x": {"field": "z", "type": "quantitative", "title": "z"},
       "y": {"field": "p", "type": "quantitative", "axis": {"orient": "left", "values": [0.002,0.003,0.004,0.005,0.006,0.007,0.008,0.009,0.02,0.03,0.04,0.05,0.06,0.07,0.08,0.09,0.2,0.3,0.4,0.5,0.6,0.7,0.8,0.9,2,3,4], "labels": false, "tickSize": 2.8, "tickWidth": 0.8, "domain": false, "title": null}}
      }
     }
    ]
   }
  ]
 }
]
}
